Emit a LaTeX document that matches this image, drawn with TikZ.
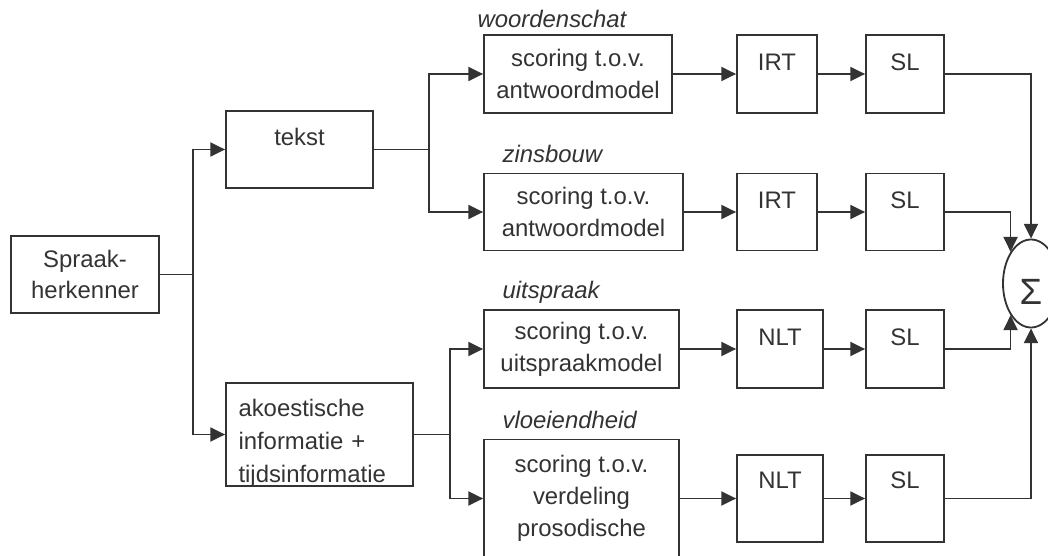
\documentclass[tikz,border=0pt]{standalone}
\usepackage{fontspec}
\setmainfont{Liberation Sans}
\usetikzlibrary{arrows.meta,shapes.geometric}

\begin{document}
\begin{tikzpicture}[>={Triangle[length=10.5pt,width=10pt]}, line width=1.3pt, color=black!80,
    font=\fontsize{17pt}{22.7pt}\selectfont,
    blok/.style={draw, align=center, minimum height=1.95cm},
    boven/.style={text height=12pt, text depth=17pt},
    kop/.style={anchor=base west, font=\fontsize{17pt}{22.7pt}\selectfont\itshape}]
    \useasboundingbox (0,0) rectangle (26.2,13.875);
    \clip (0,0) rectangle (26.2,13.875);

    % recogniser and its two outputs
    \node[blok, minimum width=3.7cm, minimum height=1.925cm] (spraak) at (2.125,7.0125) {Spraak-\\herkenner};
    \node[blok, boven, minimum width=3.675cm, minimum height=1.925cm] (tekst) at (7.4875,10.1375) {tekst};
    \node[blok, align=left, text width=4.05cm, inner ysep=0pt, text depth=48pt, minimum width=4.675cm, minimum height=2.575cm,
        font=\fontsize{17pt}{23.7pt}\selectfont] (akoest) at (7.9875,3.0125) {\rule{0pt}{22pt}akoestische\\informatie +\\tijdsinformatie};
    % hide what sticks out under the box
    \fill[white] (akoest.south west) rectangle ([yshift=-0.3cm]akoest.south east);

    % scoring boxes, the last one runs off the page
    \node[blok, minimum width=4.7cm] (score1) at (14.45,12.025) {scoring t.o.v.\\antwoordmodel};
    \node[blok, minimum width=4.975cm, minimum height=1.925cm] (score2) at (14.5875,8.575) {scoring t.o.v.\\antwoordmodel};
    \node[blok, minimum width=4.875cm] (score3) at (14.5375,5.15) {scoring t.o.v.\\uitspraakmodel};
    \node[blok, minimum width=4.875cm, minimum height=2.95cm] (score4) at (14.5375,1.4125) {scoring t.o.v.\\verdeling\\prosodische};

    \node[kop] (woorden) at (11.8,13.175) {woordenschat};
    \node[kop] (zins) at (12.425,9.8) {zinsbouw};
    \node[kop] (uitspr) at (12.425,6.425) {uitspraak};
    \node[kop] (vloei) at (12.425,3.175) {vloeiendheid};

    \node[blok, boven, minimum width=2cm] (irt1) at (19.425,12.025) {IRT};
    \node[blok, boven, minimum width=2cm, minimum height=1.925cm] (irt2) at (19.425,8.575) {IRT};
    \node[blok, boven, minimum width=2.15cm] (nlt3) at (19.5,5.15) {NLT};
    \node[blok, boven, text depth=26pt, minimum width=2.15cm, minimum height=2.175cm] (nlt4) at (19.5,1.4125) {NLT};

    \node[blok, boven, minimum width=1.95cm] (sl1) at (22.625,12.025) {SL};
    \node[blok, boven, minimum width=1.95cm, minimum height=1.925cm] (sl2) at (22.625,8.575) {SL};
    \node[blok, boven, minimum width=1.95cm] (sl3) at (22.625,5.15) {SL};
    \node[blok, boven, text depth=26pt, minimum width=1.95cm, minimum height=2.175cm] (sl4) at (22.625,1.4125) {SL};

    % summing ellipse, cut by the right edge
    \node[draw, ellipse, minimum width=1.4cm, minimum height=2.2cm, inner sep=0pt, text height=30pt, text depth=0pt,
        font=\fontsize{26pt}{30pt}\selectfont] (som) at (25.775,6.7875) {Σ};

    \draw[->] (spraak.east) -- ++(0.825,0) coordinate (j1) |- (tekst.west);
    \draw[->] (j1) |- (akoest.west);
    \draw[->] (tekst.east) -- ++(1.375,0) coordinate (j2) |- (score1.west);
    \draw[->] (j2) |- (score2.west);
    \draw[->] (akoest.east) -- ++(0.9,0) coordinate (j3) |- (score3.west);
    \draw[->] (j3) |- (score4.west);

    \foreach \a/\b/\c in {score1/irt1/sl1, score2/irt2/sl2, score3/nlt3/sl3, score4/nlt4/sl4} {
        \draw[->] (\a) -- (\b);
        \draw[->] (\b) -- (\c);
    }

    \draw[->] (sl1.east) -| (som.north);
    \draw[->] (sl2.east) -| (som.north west);
    \draw[->] (sl3.east) -| (som.south west);
    \draw[->] (sl4.east) -| (som.south);
\end{tikzpicture}
\end{document}
